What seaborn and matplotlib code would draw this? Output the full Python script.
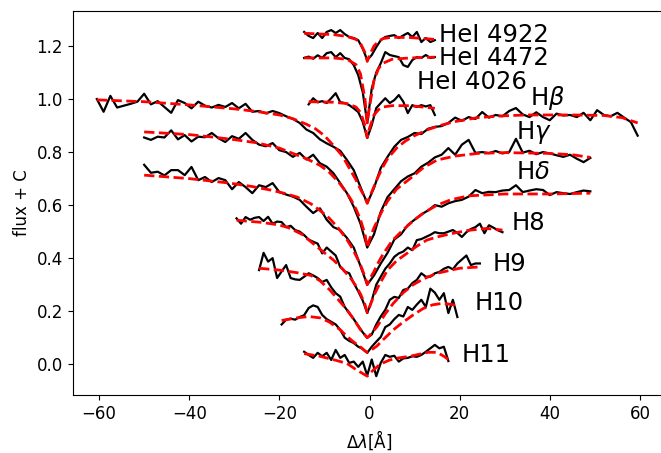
import numpy as np
import matplotlib
matplotlib.use("Agg")
import matplotlib.pyplot as plt
import seaborn as sns

# ---------------- observed spectra (flux + offset) ----------------
hbeta_grid = (-60.5, 1.5)   # start, step (Angstrom)
hbeta_flux = [1.000, 0.952, 1.012, 0.968, 0.975, 0.982, 0.990, 1.020, 0.980, 0.992,
              0.970, 0.948, 0.996, 0.985, 0.965, 0.990, 0.975, 0.968, 0.978, 0.970,
              0.985, 0.965, 0.982, 0.952, 0.955, 0.946, 0.955, 0.947, 0.935, 0.925,
              0.910, 0.885, 0.872, 0.848, 0.833, 0.820, 0.805, 0.770, 0.732, 0.668,
              0.607, 0.665, 0.740, 0.782, 0.820, 0.846, 0.857, 0.872, 0.868, 0.888,
              0.895, 0.898, 0.910, 0.930, 0.918, 0.932, 0.925, 0.951, 0.930, 0.940,
              0.935, 0.955, 0.966, 0.942, 0.932, 0.950, 0.932, 0.920, 0.945, 0.938,
              0.940, 0.932, 0.948, 0.920, 0.958, 0.940, 0.935, 0.948, 0.930, 0.913,
              0.862]

hgamma_grid = (-50.0, 1.5)
hgamma_flux = [0.855, 0.846, 0.858, 0.855, 0.882, 0.848, 0.864, 0.840, 0.858, 0.856,
               0.872, 0.852, 0.838, 0.860, 0.850, 0.872, 0.846, 0.828, 0.822, 0.834,
               0.807, 0.800, 0.782, 0.797, 0.772, 0.790, 0.758, 0.745, 0.720, 0.683,
               0.645, 0.594, 0.530, 0.440, 0.490, 0.575, 0.630, 0.660, 0.690, 0.708,
               0.720, 0.745, 0.760, 0.780, 0.790, 0.815, 0.790, 0.828, 0.846, 0.797,
               0.800, 0.796, 0.804, 0.795, 0.800, 0.850, 0.798, 0.805, 0.792, 0.800,
               0.795, 0.788, 0.782, 0.790, 0.775, 0.762, 0.778]

hdelta_grid = (-50.0, 1.5)
hdelta_flux = [0.752, 0.722, 0.726, 0.712, 0.732, 0.732, 0.713, 0.744, 0.694, 0.706,
               0.687, 0.702, 0.694, 0.660, 0.687, 0.668, 0.645, 0.675, 0.668, 0.683,
               0.649, 0.640, 0.632, 0.620, 0.594, 0.570, 0.588, 0.545, 0.517, 0.506,
               0.476, 0.440, 0.370, 0.300, 0.335, 0.380, 0.420, 0.470, 0.490, 0.525,
               0.545, 0.565, 0.580, 0.600, 0.594, 0.607, 0.615, 0.620, 0.632, 0.657,
               0.645, 0.650, 0.649, 0.655, 0.657, 0.675, 0.649, 0.655, 0.660, 0.657,
               0.638, 0.649, 0.645, 0.642, 0.649, 0.655, 0.652]

h8_grid = (-29.5, 1.0)
h8_flux = [0.550, 0.530, 0.555, 0.545, 0.552, 0.555, 0.540, 0.556, 0.530, 0.538,
           0.536, 0.517, 0.522, 0.506, 0.500, 0.487, 0.470, 0.462, 0.455, 0.418,
           0.440, 0.425, 0.410, 0.367, 0.350, 0.343, 0.306, 0.275, 0.240, 0.193,
           0.240, 0.300, 0.330, 0.360, 0.380, 0.405, 0.418, 0.425, 0.440, 0.430,
           0.468, 0.472, 0.480, 0.488, 0.498, 0.494, 0.494, 0.500, 0.506, 0.495,
           0.480, 0.498, 0.510, 0.517, 0.530, 0.494, 0.524, 0.515, 0.505, 0.498]

h9_grid = (-24.5, 1.0)
h9_flux = [0.355, 0.420, 0.387, 0.400, 0.325, 0.350, 0.374, 0.325, 0.320, 0.318,
           0.330, 0.343, 0.335, 0.325, 0.310, 0.318, 0.290, 0.268, 0.255, 0.216,
           0.193, 0.170, 0.145, 0.120, 0.100, 0.112, 0.150, 0.180, 0.205, 0.243,
           0.254, 0.250, 0.280, 0.285, 0.306, 0.318, 0.343, 0.330, 0.330, 0.343,
           0.348, 0.360, 0.367, 0.358, 0.380, 0.395, 0.410, 0.374, 0.380, 0.380]

h10_grid = (-19.5, 1.0)
h10_flux = [0.150, 0.168, 0.172, 0.168, 0.178, 0.185, 0.212, 0.222, 0.216, 0.186,
            0.170, 0.160, 0.150, 0.130, 0.100, 0.088, 0.080, 0.066, 0.058, 0.043,
            0.066, 0.085, 0.103, 0.140, 0.150, 0.170, 0.186, 0.180, 0.216, 0.205,
            0.225, 0.243, 0.216, 0.285, 0.270, 0.243, 0.268, 0.193, 0.243, 0.178]

h11_grid = (-14.5, 1.0)
h11_flux = [0.047, 0.035, 0.024, 0.043, 0.030, 0.043, 0.016, 0.054, 0.024, 0.035,
            0.005, 0.010, -0.010, 0.010, -0.042, 0.018, -0.045, 0.005, 0.035, 0.028,
            0.032, 0.010, 0.022, 0.024, 0.030, 0.028, 0.035, 0.047, 0.060, 0.073,
            0.060, 0.066, 0.012]

hei4922_grid = (-14.5, 1.0)
hei4922_flux = [1.253, 1.238, 1.230, 1.249, 1.230, 1.253, 1.260, 1.249, 1.260, 1.245,
                1.234, 1.230, 1.222, 1.190, 1.147, 1.166, 1.196, 1.222, 1.234, 1.238,
                1.241, 1.230, 1.240, 1.249, 1.234, 1.253, 1.215, 1.230, 1.215, 1.222]

hei4472_grid = (-14.5, 1.0)
hei4472_flux = [1.155, 1.160, 1.152, 1.165, 1.155, 1.173, 1.177, 1.158, 1.173, 1.155,
                1.150, 1.128, 1.090, 1.026, 0.910, 1.040, 1.100, 1.135, 1.177, 1.166,
                1.162, 1.158, 1.128, 1.121, 1.147, 1.158, 1.155, 1.166, 1.155, 1.158]

hei4026_grid = (-13.5, 1.0)
hei4026_flux = [0.980, 1.003, 0.988, 0.992, 0.985, 1.003, 1.022, 0.988, 0.985, 0.977,
                0.965, 0.951, 0.914, 0.853, 0.902, 0.966, 0.985, 1.003, 0.985, 0.996,
                1.015, 0.990, 0.947, 0.977, 0.970, 0.977, 0.972, 0.977, 0.940]

# ---------------- model fits (red dashed) ----------------
hbeta_model_x = [-60.5, -50, -40, -30, -25, -20, -17, -14, -12, -10, -8, -6, -5, -4, -3, -2, -1, -0.5,
                 0, 1, 2, 3, 4, 6, 8, 10, 13, 16, 19, 24, 30, 35, 45, 52, 56, 59.5]
hbeta_model = [0.997, 0.990, 0.978, 0.963, 0.953, 0.940, 0.926, 0.905, 0.888, 0.862, 0.825, 0.785,
               0.755, 0.725, 0.695, 0.660, 0.628, 0.607, 0.630, 0.670, 0.710, 0.745, 0.775, 0.815,
               0.842, 0.862, 0.885, 0.902, 0.915, 0.930, 0.937, 0.940, 0.940, 0.938, 0.930, 0.910]

hgamma_model_x = [-50, -40, -35, -30, -25, -20, -17, -14, -11, -9, -7, -5, -4, -3, -2, -1, -0.5,
                  0, 1, 2, 3, 4, 6, 9, 12, 15, 19, 24, 30, 40, 45, 49]
hgamma_model = [0.876, 0.866, 0.857, 0.847, 0.835, 0.815, 0.795, 0.775, 0.750, 0.725, 0.690, 0.645,
                0.618, 0.585, 0.545, 0.490, 0.440, 0.470, 0.515, 0.550, 0.585, 0.615, 0.660, 0.700,
                0.742, 0.770, 0.785, 0.795, 0.798, 0.795, 0.790, 0.780]

hdelta_model_x = [-50, -40, -31, -26, -22, -19, -16, -13, -11, -9, -7, -5, -4, -3, -2, -1, -0.5,
                  0, 1, 2, 3, 5, 7.4, 10, 12, 15, 18, 22, 30, 40, 49]
hdelta_model = [0.713, 0.700, 0.683, 0.670, 0.657, 0.645, 0.630, 0.605, 0.580, 0.552, 0.515, 0.470,
                0.442, 0.410, 0.375, 0.330, 0.300, 0.320, 0.350, 0.385, 0.415, 0.465, 0.506, 0.545,
                0.570, 0.600, 0.620, 0.635, 0.642, 0.642, 0.645]

h8_model_x = [-29.5, -24, -20, -18, -15, -12.5, -10, -8, -6, -4, -3, -2, -1, -0.5,
              0, 1, 2, 4, 6, 8.3, 10.5, 12.7, 15, 18.6, 22, 26, 29.5]
h8_model = [0.543, 0.535, 0.525, 0.515, 0.490, 0.455, 0.420, 0.393, 0.360, 0.320, 0.295, 0.265,
            0.225, 0.195, 0.215, 0.260, 0.295, 0.355, 0.390, 0.418, 0.445, 0.468, 0.480, 0.494,
            0.505, 0.512, 0.506]

h9_model_x = [-24.5, -20, -16, -13, -11, -8.8, -7, -5, -3.5, -2, -1, -0.5,
              0, 1.6, 3.5, 5.3, 7.5, 9.7, 12, 15, 20, 24.5]
h9_model = [0.362, 0.355, 0.345, 0.335, 0.315, 0.280, 0.245, 0.205, 0.170, 0.130, 0.110, 0.100,
            0.108, 0.140, 0.190, 0.230, 0.270, 0.300, 0.322, 0.343, 0.362, 0.367]

h10_model_x = [-19.5, -16, -13.5, -11, -9, -6.5, -5, -3.6, -2, -1, -0.5,
               0.5, 1.6, 3, 5.3, 7.4, 9.7, 11.9, 14, 16.3, 19.5]
h10_model = [0.165, 0.175, 0.180, 0.175, 0.160, 0.130, 0.105, 0.085, 0.065, 0.050, 0.045,
             0.055, 0.068, 0.092, 0.130, 0.158, 0.186, 0.210, 0.224, 0.230, 0.222]

h11_model_x = [-14.5, -11, -7.5, -5, -3, -2, -1, -0.5, 0, 1, 2, 3, 4.5, 6.5, 9, 13, 15, 16.5, 17.5]
h11_model = [0.040, 0.030, 0.015, 0.003, -0.020, -0.030, -0.040, -0.045, -0.035, -0.020, -0.005,
             0.005, 0.016, 0.024, 0.030, 0.045, 0.045, 0.030, 0.018]

hei4922_model_x = [-14.5, -8, -5, -3, -2, -1, -0.5, 0, 1, 2, 3, 5, 9, 14.5]
hei4922_model = [1.248, 1.243, 1.236, 1.225, 1.210, 1.175, 1.142, 1.165, 1.200, 1.218, 1.228, 1.233,
                 1.232, 1.225]

hei4472_model_x = [-14.5, -8, -5, -3, -2, -1, -0.5, 0, 1, 2, 3, 5, 9, 14.5]
hei4472_model = [1.155, 1.155, 1.150, 1.130, 1.095, 1.000, 0.910, 0.970, 1.070, 1.115, 1.135, 1.150,
                 1.155, 1.158]

hei4026_model_x = [-13.5, -8, -5, -3, -2, -1, -0.5, 0, 1, 2, 3, 5, 9, 14.5]
hei4026_model = [0.990, 0.988, 0.983, 0.970, 0.950, 0.900, 0.855, 0.890, 0.940, 0.960, 0.970, 0.975,
                 0.975, 0.965]

# ---------------- labels ----------------
line_labels = ['HeI 4922', 'HeI 4472', 'HeI 4026', r'H$\beta$', r'H$\gamma$', r'H$\delta$',
               'H8', 'H9', 'H10', 'H11']
label_x = [15.5, 15.5, 10.5, 35.6, 32.6, 32.6, 31.5, 27.4, 23.4, 20.4]
label_y = [1.216, 1.128, 1.038, 0.977, 0.848, 0.698, 0.506, 0.352, 0.205, 0.008]

series = [
    (hbeta_grid, hbeta_flux, hbeta_model_x, hbeta_model),
    (hgamma_grid, hgamma_flux, hgamma_model_x, hgamma_model),
    (hdelta_grid, hdelta_flux, hdelta_model_x, hdelta_model),
    (h8_grid, h8_flux, h8_model_x, h8_model),
    (h9_grid, h9_flux, h9_model_x, h9_model),
    (h10_grid, h10_flux, h10_model_x, h10_model),
    (h11_grid, h11_flux, h11_model_x, h11_model),
    (hei4922_grid, hei4922_flux, hei4922_model_x, hei4922_model),
    (hei4472_grid, hei4472_flux, hei4472_model_x, hei4472_model),
    (hei4026_grid, hei4026_flux, hei4026_model_x, hei4026_model),
]

fig = plt.figure(figsize=(6.61, 4.53), dpi=100)
ax = fig.add_axes([72.5 / 661, 58 / 453, 594 / 661, 384 / 453])

for (start, step), flux, mx, my in series:
    wl = start + step * np.arange(len(flux))
    sns.lineplot(x=wl, y=flux, ax=ax, color='black', linewidth=1.6,
                 estimator=None, sort=False)
    sns.lineplot(x=mx, y=my, ax=ax, color='red', linewidth=2.0, linestyle='--',
                 estimator=None, sort=False)

for lab, lx, ly in zip(line_labels, label_x, label_y):
    ax.text(lx, ly, lab, fontsize=17.5, ha='left', va='baseline')

ax.set_xlim(-65.9, 65.9)
ax.set_ylim(-0.116, 1.332)
ax.set_xticks([-60, -40, -20, 0, 20, 40, 60])
ax.set_yticks([0.0, 0.2, 0.4, 0.6, 0.8, 1.0, 1.2])
ax.set_yticklabels(['0.0', '0.2', '0.4', '0.6', '0.8', '1.0', '1.2'])
ax.tick_params(labelsize=12)
ax.set_xlabel(r'$\Delta\lambda$[Å]', fontsize=12)
ax.set_ylabel('flux + C', fontsize=12)

fig.savefig('out.png', dpi=100)
